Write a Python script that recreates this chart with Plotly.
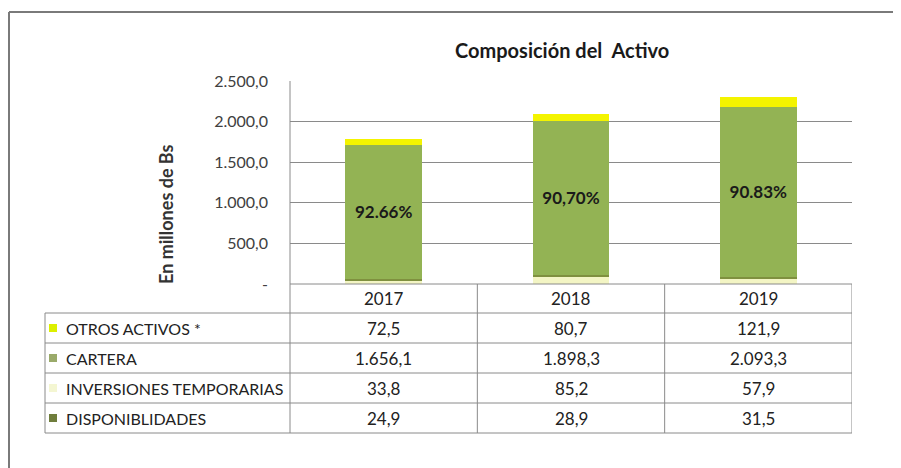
import plotly.graph_objects as go

years = ["2017", "2018", "2019"]
otros_activos = [72.5, 80.7, 121.9]
cartera = [1656.1, 1898.3, 2093.3]
inversiones = [33.8, 85.2, 57.9]
disponibilidades = [24.9, 28.9, 31.5]
cartera_pct = ["92.66%", "90,70%", "90.83%"]

y_ticks = [0, 500, 1000, 1500, 2000, 2500]

# the page puts the plot 8px in from the top-left corner
OFF = 8
W, H = 901 - OFF, 468 - OFF
L, R, T, B = 290 - OFF, 49, 81 - OFF, 184
PW, PH = W - L - R, H - T - B


def px_x(x):
    return (x - OFF - L) / PW


def px_y(y):
    return 1 - (y - OFF - T) / PH


def es_num(v):
    # 1656.1 -> "1.656,1"
    s = f"{v:,.1f}"
    return s.replace(",", "_").replace(".", ",").replace("_", ".")


FONT = "Lato"
TXT = "#222222"

# (name, values, bar colour, legend key colour)
otros_s = ("OTROS ACTIVOS *", otros_activos, "#f4f400", "#dcef00")
cartera_s = ("CARTERA", cartera, "#93b354", "#9aaa6a")
inv_s = ("INVERSIONES TEMPORARIAS", inversiones, "#f3f5c4", "#f4f6d2")
disp_s = ("DISPONIBLIDADES", disponibilidades, "#7f903f", "#6f7d3c")

stack_order = [inv_s, disp_s, cartera_s, otros_s]   # bottom to top, as drawn
table_order = [otros_s, cartera_s, inv_s, disp_s]   # rows of the data table

fig = go.Figure()
for name, vals, color, _ in stack_order:
    kw = {}
    if name == "CARTERA":
        kw = dict(text=cartera_pct, textposition="inside", insidetextanchor="middle",
                  textfont=dict(family=FONT, size=17, color="#1a1a1a", weight="bold"),
                  constraintext="none")
    fig.add_trace(go.Bar(x=years, y=vals, name=name, marker=dict(color=color, line_width=0),
                         width=0.41, showlegend=False, **kw))

fig.update_layout(
    barmode="stack", width=W, height=H,
    margin=dict(l=L, r=R, t=T, b=B, autoexpand=False),
    paper_bgcolor="white", plot_bgcolor="white",
    font=dict(family=FONT, size=16, color=TXT),
)
fig.update_yaxes(range=[0, 2500], tickvals=y_ticks,
                 ticktext=["-" if v == 0 else es_num(v) for v in y_ticks],
                 showgrid=True, gridcolor="#8a8a8a", gridwidth=1, zeroline=False,
                 showline=False, ticks="", ticklabelstandoff=21,
                 tickfont=dict(family=FONT, size=16, color="#404040"))
fig.update_xaxes(type="category", showticklabels=False, showgrid=False, zeroline=False,
                 showline=False, range=[-0.5, 2.5])

shapes = []
line = dict(color="#8a8a8a", width=1)
# outer frame (top and left edges visible)
shapes.append(dict(type="line", xref="paper", yref="paper", x0=px_x(9), x1=px_x(901),
                   y0=px_y(12), y1=px_y(12), line=dict(color="#7a7a7a", width=2)))
shapes.append(dict(type="line", xref="paper", yref="paper", x0=px_x(9), x1=px_x(9),
                   y0=px_y(12), y1=px_y(468), line=dict(color="#7a7a7a", width=2)))

# data table under the plot
row_edges = [284, 313, 343, 373, 403, 433]
col_edges = [-0.5, 0.5, 1.5, 2.5]
shapes.append(dict(type="line", xref="paper", yref="paper", x0=0, x1=0,
                   y0=1, y1=px_y(row_edges[-1]), line=line))
for c in col_edges[1:]:
    shapes.append(dict(type="line", xref="x", yref="paper", x0=c, x1=c,
                       y0=px_y(row_edges[0]), y1=px_y(row_edges[-1]), line=line))
shapes.append(dict(type="line", xref="x", yref="paper", x0=-0.5, x1=2.5,
                   y0=px_y(row_edges[0]), y1=px_y(row_edges[0]), line=line))
for r in row_edges[1:]:
    shapes.append(dict(type="line", xref="paper", yref="paper", x0=px_x(45), x1=1,
                       y0=px_y(r), y1=px_y(r), line=line))
shapes.append(dict(type="line", xref="paper", yref="paper", x0=px_x(45), x1=px_x(45),
                   y0=px_y(row_edges[1]), y1=px_y(row_edges[-1]), line=line))

ann = []


def cell(x, xref, y, text, xanchor="center", size=17, **extra):
    ann.append(dict(x=x, xref=xref, y=y, yref="paper", text=text, showarrow=False,
                    xanchor=xanchor, yanchor="middle",
                    font=dict(family=FONT, size=size, color=extra.pop("color", TXT)), **extra))


hdr_mid = (row_edges[0] + row_edges[1]) / 2
for i, yr in enumerate(years):
    cell(i, "x", px_y(hdr_mid), yr)

for r, (name, vals, _, key) in enumerate(table_order):
    mid = (row_edges[r + 1] + row_edges[r + 2]) / 2
    shapes.append(dict(type="rect", xref="paper", yref="paper", x0=px_x(49), x1=px_x(57),
                       y0=px_y(mid + 4), y1=px_y(mid - 4), fillcolor=key, line_width=0))
    cell(px_x(64), "paper", px_y(mid), name, xanchor="left", size=16)
    for i, v in enumerate(vals):
        cell(i, "x", px_y(mid), es_num(v))

cell(px_x(562), "paper", px_y(50), "<b>Composición del\u00a0 Activo</b>", size=20,
     color="#1a1a1a")
cell(px_x(166), "paper", px_y(215), "<b>En millones de Bs</b>", size=18, color="#333333",
     textangle=-90)

fig.update_layout(shapes=shapes, annotations=ann)
fig.write_html("out.html")
